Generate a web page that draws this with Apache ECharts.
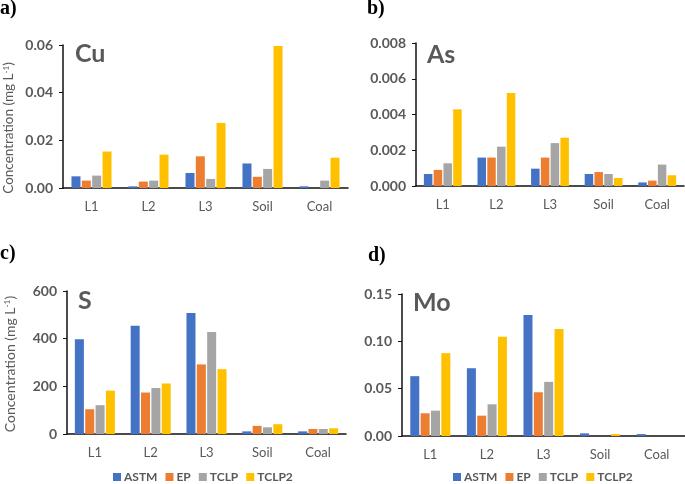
<!DOCTYPE html>
<html>
<head>
<meta charset="utf-8">
<script src="https://cdn.jsdelivr.net/npm/echarts@6/dist/echarts.min.js"></script>
<style>
  html, body { margin: 0; padding: 0; background: #fff; }
  #chart { width: 685px; height: 484px; }
</style>
</head>
<body>
<div id="chart"></div>
<script>
// categories and methods
var categories = ['L1', 'L2', 'L3', 'Soil', 'Coal']
var methods = ['ASTM', 'EP', 'TCLP', 'TCLP2']
var colors = ['#4472C4', '#ED7D31', '#A5A5A5', '#FFC000']

// a) Cu
var cuASTM = [0.0049, 0.0007, 0.0063, 0.0103, 0.0007]
var cuEP = [0.0031, 0.0027, 0.0133, 0.0047, 0]
var cuTCLP = [0.0052, 0.0031, 0.0038, 0.0080, 0.0031]
var cuTCLP2 = [0.0153, 0.0140, 0.0273, 0.0596, 0.0127]
// b) As
var asASTM = [0.00067, 0.00159, 0.00097, 0.00067, 0.00020]
var asEP = [0.00090, 0.00159, 0.00159, 0.00078, 0.00030]
var asTCLP = [0.00127, 0.00220, 0.00240, 0.00067, 0.00120]
var asTCLP2 = [0.00429, 0.00520, 0.00270, 0.00045, 0.00060]
// c) S
var sASTM = [398, 454, 508, 11, 11]
var sEP = [104, 174, 292, 34, 21]
var sTCLP = [121, 193, 428, 28, 21]
var sTCLP2 = [182, 212, 272, 41, 24]
// d) Mo
var moASTM = [0.0632, 0.0716, 0.1278, 0.0028, 0.0020]
var moEP = [0.0240, 0.0215, 0.0462, 0, 0]
var moTCLP = [0.0268, 0.0335, 0.0572, 0, 0]
var moTCLP2 = [0.0875, 0.1048, 0.1130, 0.0020, 0]

// y axis ticks
var cuTicks = { max: 0.06, interval: 0.02, digits: 2 }
var asTicks = { max: 0.008, interval: 0.002, digits: 3 }
var sTicks = { max: 600, interval: 200, digits: 0 }
var moTicks = { max: 0.15, interval: 0.05, digits: 2 }

var panels = [
  { letter: 'a)', el: 'Cu', data: [cuASTM, cuEP, cuTCLP, cuTCLP2], ticks: cuTicks,
    grid: { left: 63, top: 45, width: 285, height: 143 }, barWidth: 9,
    letterPos: [0, 10], elPos: [75, 56] },
  { letter: 'b)', el: 'As', data: [asASTM, asEP, asTCLP, asTCLP2], ticks: asTicks,
    grid: { left: 416, top: 43, width: 268, height: 143 }, barWidth: 8.5,
    letterPos: [367, 10], elPos: [427, 57] },
  { letter: 'c)', el: 'S', data: [sASTM, sEP, sTCLP, sTCLP2], ticks: sTicks,
    grid: { left: 67, top: 291, width: 279, height: 143 }, barWidth: 9,
    letterPos: [0, 255], elPos: [78, 303] },
  { letter: 'd)', el: 'Mo', data: [moASTM, moEP, moTCLP, moTCLP2], ticks: moTicks,
    grid: { left: 402, top: 294, width: 283, height: 142 }, barWidth: 9,
    letterPos: [368, 257], elPos: [413, 305] }
]

var grey = '#595959'
var font = 'Lato, "DejaVu Sans", sans-serif'

var grids = []
var xAxes = []
var yAxes = []
var series = []
var graphics = []

panels.forEach(function(p, i) {
  grids.push(p.grid)
  xAxes.push({
    type: 'category',
    gridIndex: i,
    data: categories,
    axisLine: { lineStyle: { color: '#111', width: 1.5 } },
    axisTick: { show: false },
    axisLabel: { color: grey, fontFamily: font, fontSize: 13, margin: 12 }
  })
  yAxes.push({
    type: 'value',
    gridIndex: i,
    min: 0,
    max: p.ticks.max,
    interval: p.ticks.interval,
    splitLine: { show: false },
    axisLine: { show: true, lineStyle: { color: '#111', width: 1.5 } },
    axisTick: { show: true, length: 4, lineStyle: { color: '#111' } },
    axisLabel: {
      color: grey, fontFamily: font, fontSize: 14, fontWeight: 'bold', margin: 10,
      formatter: (function(d) { return function(v) { return v.toFixed(d) } })(p.ticks.digits)
    }
  })
  methods.forEach(function(m, j) {
    series.push({
      name: m,
      type: 'bar',
      xAxisIndex: i,
      yAxisIndex: i,
      data: p.data[j],
      barWidth: p.barWidth,
      barGap: '15%',
      itemStyle: { color: colors[j] },
      silent: true
    })
  })
  graphics.push({
    type: 'text', left: p.letterPos[0], top: p.letterPos[1] - 11,
    style: { text: p.letter, font: 'bold 20px "Liberation Serif", serif', fill: '#000' }
  })
  graphics.push({
    type: 'text', left: p.elPos[0], top: p.elPos[1] - 15,
    style: { text: p.el, font: 'bold 25px ' + font, fill: grey }
  })
})

// y axis names (left panels only)
function yName(x, y, size) {
  return {
    type: 'text', x: x, y: y, rotation: Math.PI / 2,
    style: {
      text: '{n|Concentration (mg L}{s|-1}{n|)}',
      align: 'center', verticalAlign: 'middle',
      rich: {
        n: { fontFamily: font, fontSize: size, fill: grey, verticalAlign: 'bottom' },
        s: { fontFamily: font, fontSize: size * 0.6, fill: grey, verticalAlign: 'top' }
      }
    }
  }
}
graphics.push(yName(9, 128, 13.5))
graphics.push(yName(10, 364, 14))

var legendBase = {
  data: methods,
  itemWidth: 8,
  itemHeight: 8,
  itemGap: 8,
  padding: 0,
  icon: 'rect',
  selectedMode: false,
  textStyle: { color: grey, fontFamily: font, fontSize: 12, fontWeight: 'bold', padding: [0, 0, 0, -2] }
}

var chart = echarts.init(document.getElementById('chart'), null, { renderer: 'canvas' })
chart.setOption({
  animation: false,
  color: colors,
  grid: grids,
  xAxis: xAxes,
  yAxis: yAxes,
  series: series,
  legend: [
    Object.assign({}, legendBase, { left: 113, top: 471 }),
    Object.assign({}, legendBase, { left: 453, top: 471 })
  ],
  graphic: graphics
})
</script>
</body>
</html>
